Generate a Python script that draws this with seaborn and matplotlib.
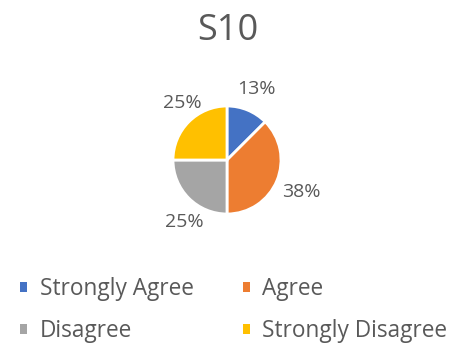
import matplotlib
matplotlib.use("Agg")
import matplotlib.pyplot as plt
import seaborn as sns
import numpy as np
from matplotlib.patches import Patch

categories = ["Strongly Agree", "Agree", "Disagree", "Strongly Disagree"]
values = [12.5, 37.5, 25, 25]
pct_labels = ["13%", "38%", "25%", "25%"]
colors = ["#4472C4", "#ED7D31", "#A5A5A5", "#FFC000"]
title = "S10"

sns.set_theme(style="white")
plt.rcParams['font.family'] = ['Open Sans', 'DejaVu Sans']
txt = "#595959"

fig = plt.figure(figsize=(4.51, 3.51), dpi=100)
cx, cy, r = 227, 160, 54
ax = fig.add_axes([(cx - r) / 451, 1 - (cy + r) / 351, 2 * r / 451, 2 * r / 351])
wedges, _ = ax.pie(values, colors=colors, startangle=90, counterclock=False,
                   wedgeprops=dict(edgecolor="white", linewidth=2))
ax.set_xlim(-1, 1)
ax.set_ylim(-1, 1)
ax.set_aspect("equal")

# small per-label nudges (pixels) to mimic best-fit label placement
nudges = [(0, 0), (3, -3), (12, -8), (10, 3)]
cum = 0
for v, lab, (nx, ny) in zip(values, pct_labels, nudges):
    mid = 90 - (cum + v / 2) / sum(values) * 360
    cum += v
    x = 1.42 * np.cos(np.radians(mid))
    y = 1.42 * np.sin(np.radians(mid))
    ax.annotate(lab, (x, y), xytext=(nx * 0.72, ny * 0.72), textcoords="offset points",
                ha="center", va="center", fontsize=14, color=txt, annotation_clip=False)

fig.text(228 / 451, 1 - 31 / 351, title, ha="center", va="center", fontsize=26, color=txt)

order = [0, 2, 1, 3]
handles = [Patch(facecolor=colors[i], edgecolor="none") for i in order]
labels = [categories[i] for i in order]
fig.legend(handles, labels, loc="center left", bbox_to_anchor=(9 / 451, 1 - 310 / 351),
           ncol=2, frameon=False, fontsize=16.3, labelcolor=txt,
           handlelength=0.3, handleheight=0.3, handletextpad=0.55,
           columnspacing=2.2, labelspacing=0.8, borderpad=0)

fig.savefig("out.png", dpi=100, facecolor="white")
